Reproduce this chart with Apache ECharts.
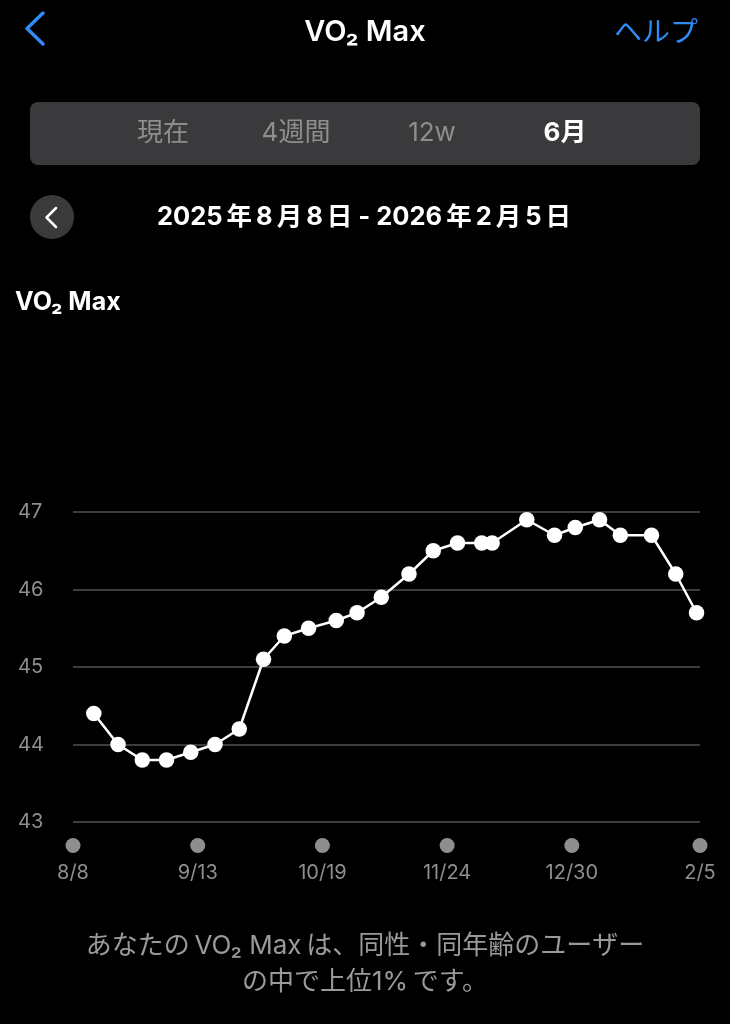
<!DOCTYPE html>
<html>
<head>
<meta charset="utf-8">
<script src="https://cdn.jsdelivr.net/npm/echarts@6/dist/echarts.min.js"></script>
<style>
html,body{margin:0;padding:0;background:#000;}
#chart{width:730px;height:1024px;}
</style>
</head>
<body>
<div id="chart"></div>
<script>
// ---- data ----
var dates = ['2025-08-14','2025-08-21','2025-08-28','2025-09-04','2025-09-11','2025-09-18','2025-09-25',
  '2025-10-02','2025-10-08','2025-10-15','2025-10-23','2025-10-29','2025-11-05','2025-11-13',
  '2025-11-20','2025-11-27','2025-12-04','2025-12-07','2025-12-17','2025-12-25','2025-12-31',
  '2026-01-07','2026-01-13','2026-01-22','2026-01-29','2026-02-04'];
var vo2 = [44.4,44.0,43.8,43.8,43.9,44.0,44.2,
  45.1,45.4,45.5,45.6,45.7,45.9,46.2,
  46.5,46.6,46.6,46.6,46.9,46.7,46.8,
  46.9,46.7,46.7,46.2,45.7];
var tickDates = ['2025-08-08','2025-09-13','2025-10-19','2025-11-24','2025-12-30','2026-02-05'];
var rangeStart = '2025-08-08';
var rangeEnd = '2026-02-05';
var yTicks = [43,44,45,46,47];
var segments = ['現在','4週間','12w','6月'];
var titleText = 'VO₂ Max';
var helpText = 'ヘルプ';
var rangeText = '2025\u2009年\u20098\u2009月\u20098\u2009日 - 2026\u2009年\u20092\u2009月\u20095\u2009日';
var footerLines = ['あなたの\u2009VO₂ Max\u2009は、同性・同年齢のユーザー','の中で上位1%\u2009です。'];

var DAY = 86400000;
function ts(s){var p=s.split('-');return new Date(+p[0],+p[1]-1,+p[2]).getTime();}
var t0 = ts(rangeStart);
function dayIdx(s){return Math.round((ts(s)-t0)/DAY);}
function dayLabel(n){var d=new Date(t0 + n*DAY + 3600000*12);return (d.getMonth()+1)+'/'+d.getDate();}
var seriesData = dates.map(function(d,i){return [dayIdx(d), vo2[i]];});
var tickIdx = tickDates.map(dayIdx);

var FONT = "Inter, 'Noto Sans CJK JP', sans-serif";
var JFONT = "'Noto Sans CJK JP', Inter, sans-serif";
var BLUE = '#2f8cf5';
var GREY = '#8e8e93';

var chart = echarts.init(document.getElementById('chart'), null, {renderer:'canvas'});

var graphics = [
  {type:'polyline', shape:{points:[[43,13],[27,28.5],[43,44]]}, style:{stroke:BLUE, lineWidth:3.5, fill:null, lineCap:'round', lineJoin:'round'}},
  {type:'text', x:365, y:32, style:{text:titleText, fill:'#fff', font:'600 29px ' + FONT, align:'center', verticalAlign:'middle'}},
  {type:'text', x:698, y:31, style:{text:helpText, fill:BLUE, font:'400 28px ' + JFONT, align:'right', verticalAlign:'middle'}},
  {type:'rect', shape:{x:30, y:102, width:670, height:63, r:8}, style:{fill:'#3a3a3c'}},
  {type:'circle', shape:{cx:52, cy:217, r:22}, style:{fill:'#3a3a3c'}},
  {type:'polyline', shape:{points:[[56,208],[46.5,217.5],[56,227]]}, style:{stroke:'#fff', lineWidth:2.5, fill:null, lineCap:'round', lineJoin:'round'}},
  {type:'text', x:364, y:217, style:{text:rangeText, fill:'#fff', font:'700 25.5px ' + FONT, align:'center', verticalAlign:'middle'}},
  {type:'text', x:15, y:302, style:{text:titleText, fill:'#fff', font:'700 25px ' + FONT, align:'left', verticalAlign:'middle'}}
];
var segX = [163, 296, 432, 565];
segments.forEach(function(s,i){
  var sel = i === segments.length-1;
  graphics.push({type:'text', x:segX[i], y:133, style:{text:s, fill: sel ? '#fff' : '#8e8e8e', font:(sel?'700 ':'400 ') + '26px ' + FONT, align:'center', verticalAlign:'middle'}});
});
footerLines.forEach(function(t,i){
  graphics.push({type:'text', x:365, y:946 + i*36, style:{text:t, fill:'#9a9a9a', font:'400 26px ' + FONT, align:'center', verticalAlign:'middle'}});
});

var option = {
  backgroundColor:'#000',
  animation:false,
  grid:{left:73, right:30, top:512, bottom:202, containLabel:false},
  xAxis:{
    type:'value',
    min: 0, max: dayIdx(rangeEnd),
    axisLine:{show:false}, axisTick:{show:false}, splitLine:{show:false},
    axisLabel:{
      customValues: tickIdx,
      margin:16,
      hideOverlap:false,
      showMinLabel:true, showMaxLabel:true,
      formatter:function(v){return '{dot|}\n{t|' + dayLabel(v) + '}';},
      rich:{
        dot:{width:15, height:15, borderRadius:7.5, backgroundColor:'#8e8e8e', align:'center'},
        t:{fontSize:20, fontFamily:FONT, color:GREY, lineHeight:40, align:'center'}
      }
    }
  },
  yAxis:{
    type:'value', min:43, max:47, interval:1,
    axisLine:{show:false}, axisTick:{show:false},
    splitLine:{lineStyle:{color:'#3c3c3c', width:2}},
    axisLabel:{
      customValues: yTicks,
      align:'left', margin:55, fontSize:20, fontFamily:FONT, color:GREY
    }
  },
  series:[{
    type:'line',
    data: seriesData,
    symbol:'circle', symbolSize:15.5,
    showAllSymbol:true,
    lineStyle:{color:'#fff', width:2.5},
    itemStyle:{color:'#fff', borderWidth:0},
    emphasis:{disabled:true}
  }],
  graphic: graphics
};
chart.setOption(option);
</script>
</body>
</html>
